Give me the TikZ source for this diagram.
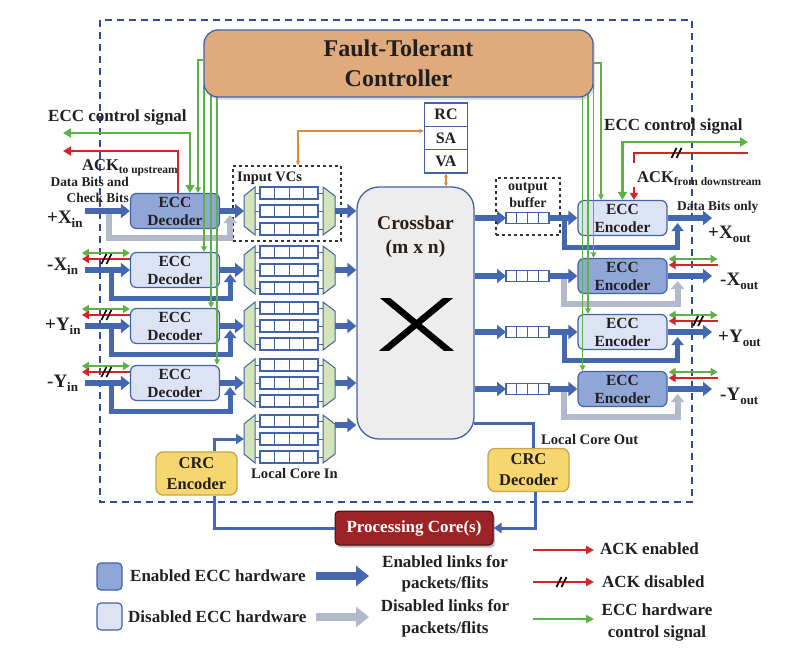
\documentclass[tikz,border=0pt]{standalone}
\usepackage{fontspec}
\setmainfont{Liberation Serif}
\usetikzlibrary{arrows.meta,shadows,calc}
\definecolor{bl}{HTML}{4468B0}
\definecolor{bdr}{HTML}{4262AA}
\definecolor{enf}{HTML}{8FA6D7}
\definecolor{dif}{HTML}{DCE3F4}
\definecolor{gry}{HTML}{B2B9CB}
\definecolor{grn}{HTML}{5DB247}
\definecolor{rd}{HTML}{D42428}
\definecolor{tanc}{HTML}{DFAB7D}
\definecolor{crcf}{HTML}{F6D66E}
\definecolor{crcb}{HTML}{C9A448}
\definecolor{pcr}{HTML}{9C2326}
\definecolor{trap}{HTML}{D4E4B8}
\definecolor{org}{HTML}{E08B3C}
\definecolor{xbf}{HTML}{EDEDEE}
\definecolor{txt}{HTML}{231F20}
\definecolor{xbt}{HTML}{2A2018}
\definecolor{dsh}{HTML}{2F4E98}
\newcommand\fsz[2]{\fontsize{#1}{#2}\selectfont}
\newcommand\subt[3]{\raisebox{-#2pt}{\fsz{#1}{#1}\bfseries #3}}
\pgfdeclarelayer{front}
\pgfsetlayers{main,front}
\newcommand\vcunit[2]{%
  \coordinate (#1-in) at (244,#2);
  \coordinate (#1-out) at (335,#2);
  \foreach \d in {-18,0,18}{
    \draw[draw=bdr, line width=1pt] (255,{#2+(\d)}) -- (260,{#2+(\d)}) (318,{#2+(\d)}) -- (323,{#2+(\d)});
    \draw[cellrow] (260,{#2+(\d)-6}) rectangle (318,{#2+(\d)+6});
    \foreach \c in {274.5,289,303.5}
      \draw[draw=bdr, line width=1pt] (\c,{#2+(\d)-6}) -- (\c,{#2+(\d)+6});
  }
  \draw[draw=bdr, line width=1pt, fill=trap] (244,{#2-15}) -- (255,{#2-24}) -- (255,{#2+24}) -- (244,{#2+15}) -- cycle;
  \draw[draw=bdr, line width=1pt, fill=trap] (323,{#2-24}) -- (335,{#2-15}) -- (335,{#2+15}) -- (323,{#2+24}) -- cycle;
}
\newcommand\obuf[2]{%
  \coordinate (#1-in) at (506,#2);
  \coordinate (#1-out) at (549,#2);
  \draw[cellrow] (506,{#2-5.5}) rectangle (549,{#2+5.5});
  \foreach \c in {516.75,527.5,538.25}
    \draw[draw=bdr, line width=1pt] (\c,{#2-5.5}) -- (\c,{#2+5.5});
}
\newcommand\slashm[1]{%
  \draw[line width=1.6pt, black] ($(#1)+(-5.5,5)$) -- ++(5,-10) ($(#1)+(-0.5,5)$) -- ++(5,-10);
}
\begin{document}
\begin{tikzpicture}[x=1pt,y=-1pt,
  every node/.style={text=txt},
  eccbox/.style={draw=bdr, line width=1.2pt, rounded corners=6pt, minimum width=89pt, minimum height=35pt, align=center, inner sep=0pt, font=\fsz{15.5}{18}\bfseries},
  en/.style={eccbox, fill=enf},
  dis/.style={eccbox, fill=dif},
  blk/.style={draw=bl, line width=6pt, -{Triangle[width=14pt,length=9pt]}},
  byp/.style={draw=bl, line width=5pt, -{Triangle[width=12pt,length=8pt]}},
  gbyp/.style={draw=gry, line width=6pt, -{Triangle[width=13pt,length=8pt]}},
  gctl/.style={draw=grn, line width=1.5pt, -{Triangle[width=5.5pt,length=5.5pt]}},
  gdbl/.style={draw=grn, line width=2.5pt, {Triangle[width=8pt,length=7pt]}-{Triangle[width=8pt,length=7pt]}},
  rarr/.style={draw=rd, line width=2.5pt, -{Triangle[width=8pt,length=7pt]}},
  lcl/.style={draw=bl, line width=3pt},
  lbl/.style={inner sep=0pt, font=\fsz{17}{20}\bfseries},
  port/.style={inner sep=0pt, anchor=base west, font=\fsz{19}{19}\bfseries},
  cellrow/.style={draw=bdr, line width=1.1pt, fill=white},
  crcbox/.style={fill=crcf, draw=crcb, line width=1.3pt, rounded corners=7pt, minimum width=81pt, minimum height=43pt, align=center, inner sep=0pt, font=\fsz{16.5}{21}\bfseries},
  stg/.style={draw=bdr, line width=1.2pt, fill=white, minimum width=43pt, minimum height=23.3pt, inner sep=0pt, font=\fsz{16}{16}\bfseries},
  grpbox/.style={draw=black!80, dashed, line width=1.2pt, inner sep=0pt},
]
\fill[white] (0,0) rectangle (804,648);
\useasboundingbox (0,0) rectangle (804,648);
\draw[dsh, line width=1.3pt, dash pattern=on 7pt off 5pt] (100,20) rectangle (692,502);

% group boxes
\node[grpbox, minimum width=108pt, minimum height=75pt] (ivcbox) at (287,203.5) {};
\node[grpbox, minimum width=64pt, minimum height=57pt] (obbox) at (528,206.5) {};

% ports
\coordinate (in1) at (85,211);
\coordinate (in2) at (85,270);
\coordinate (in3) at (85,326);
\coordinate (in4) at (85,383);
\coordinate (out1) at (712,218);
\coordinate (out2) at (712,276);
\coordinate (out3) at (712,332);
\coordinate (out4) at (712,389);

% ECC decoders / encoders
\node[en] (dec1) at (175,211) {ECC\\Decoder};
\node[dis] (dec2) at (175,270) {ECC\\Decoder};
\node[dis] (dec3) at (175,326) {ECC\\Decoder};
\node[dis] (dec4) at (175,383) {ECC\\Decoder};
\node[dis] (enc1) at (622.5,218) {ECC\\Encoder};
\node[en] (enc2) at (622.5,276) {ECC\\Encoder};
\node[dis] (enc3) at (622.5,332) {ECC\\Encoder};
\node[en] (enc4) at (622.5,389) {ECC\\Encoder};

% buffers
\vcunit{vc1}{211}
\vcunit{vc2}{270}
\vcunit{vc3}{326}
\vcunit{vc4}{383}
\vcunit{vc5}{439}
\obuf{ob1}{218}
\obuf{ob2}{276}
\obuf{ob3}{332}
\obuf{ob4}{389}

% bypass links
\draw[gbyp] ($(in1)+(24,0)$) -- ++(0,27) -| ($(dec1.east)+(10,4)$);
\foreach \i in {2,3,4}
  \draw[byp] ($(in\i)+(26,0)$) -- ++(0,28) -| ($(dec\i.east)+(10,4)$);
\draw[byp] ($(ob1-out)+(15,0)$) -- ++(0,29) -| ($(enc1.east)+(10,5)$);
\draw[gbyp] ($(ob2-out)+(15,0)$) -- ++(0,28) -| ($(enc2.east)+(10,5)$);
\draw[byp] ($(ob3-out)+(15,0)$) -- ++(0,28) -| ($(enc3.east)+(10,5)$);
\draw[gbyp] ($(ob4-out)+(15,0)$) -- ++(0,28) -| ($(enc4.east)+(10,5)$);

% crossbar
\node[draw=bdr, line width=1.3pt, fill=xbf, rounded corners=22pt, minimum width=117pt, minimum height=252pt, inner sep=0pt] (xbar) at (415.5,313) {};
\node[align=center, inner sep=0pt, text=xbt, font=\fsz{19.5}{24}\bfseries] (xbarlbl) at (415.5,237) {Crossbar\\(m x n)};
\begin{scope}
  \clip (375,298) rectangle (460,350);
  \draw[line width=6.5pt, black] (381.4,295) -- (451.6,353);
  \draw[line width=6.5pt, black] (451.6,295) -- (381.4,353);
\end{scope}

% RC SA VA
\node[stg] (rc) at (446,114.7) {RC};
\node[stg] (sa) at (446,138) {SA};
\node[stg] (va) at (446,161.3) {VA};
\draw[org, line width=1.2pt, {Stealth[length=5pt,width=4.5pt]}-{Stealth[length=5pt,width=4.5pt]}] ([xshift=11pt]ivcbox.north) |- ([yshift=7pt]sa.west);
\draw[org, line width=1.2pt, {Stealth[length=4pt,width=4pt]}-{Stealth[length=4pt,width=4pt]}] (va.south) -- (va.south |- xbar.north);

% main data arrows
\foreach \i in {1,2,3,4}{
  \draw[blk] (in\i) -- (dec\i.west);
  \draw[blk] (dec\i.east) -- (vc\i-in);
  \draw[blk] (vc\i-out) -- (vc\i-out -| xbar.west);
  \draw[blk] (ob\i-in -| xbar.east) -- (ob\i-in);
  \draw[blk] (ob\i-out) -- (enc\i.west);
  \draw[blk] (enc\i.east) -- (out\i);
}
\coordinate (vc5-o) at (335,425);
\draw[blk] (vc5-o) -- (vc5-o -| xbar.west);

% ACK / control at ports
\foreach \i in {2,3,4}{
  \draw[gdbl] ($(dec\i.west)+(-48,-17)$) -- ($(dec\i.west)+(0,-17)$);
  \draw[rarr] ($(dec\i.west)+(0,-11)$) -- ($(dec\i.west)+(-48,-11)$);
  \coordinate (sl\i) at ($(dec\i.west)+(-23,-11)$);
  \slashm{sl\i}
  \draw[gdbl] ($(enc\i.east)+(1,-17)$) -- ($(enc\i.east)+(50,-17)$);
  \draw[rarr] ($(enc\i.east)+(50,-11)$) -- ($(enc\i.east)+(1,-11)$);
}
\coordinate (sle3) at ($(enc3.east)+(31,-11)$);
\slashm{sle3}

% controller (front layer)
\begin{pgfonlayer}{front}
\node[fill=tanc, draw=bdr, line width=1.3pt, rounded corners=14pt, minimum width=389pt, minimum height=67pt, align=center, inner sep=0pt, font=\fsz{24}{30}\bfseries, drop shadow={shadow xshift=2pt, shadow yshift=-3pt, opacity=0.25}] (ctrl) at (398.5,63.5) {Fault-Tolerant\\Controller};
\end{pgfonlayer}

% controller green lines
\draw[gctl] ([yshift=3.5pt]ctrl.west) -| ([xshift=23pt]dec1.north);
\coordinate (gl2) at (204,85);
\coordinate (gl3) at (211,85);
\coordinate (gl4) at (217,85);
\draw[gctl] (gl2) -- (gl2 |- dec2.north);
\draw[gctl] (gl3) -- (gl3 |- dec3.north);
\draw[gctl] (gl4) -- (gl4 |- dec4.north);
\draw[gctl] ([yshift=0.5pt]ctrl.east) -| ([xshift=-21.5pt]enc1.north);
\coordinate (gr2) at (593.5,85);
\coordinate (gr3) at (588,85);
\coordinate (gr4) at (582.5,85);
\draw[gctl] (gr2) -- (gr2 |- enc2.north);
\draw[gctl] (gr3) -- (gr3 |- enc3.north);
\draw[gctl] (gr4) -- (gr4 |- enc4.north);

% ECC control / ACK for +X
\coordinate (eccL) at (63,133);
\coordinate (ackL) at (63,151);
\draw[draw=grn, line width=2.5pt, {Triangle[width=9pt,length=8pt]}-{Triangle[width=9pt,length=8pt]}] ([xshift=15pt]dec1.north) |- (eccL);
\draw[draw=rd, line width=2.6pt, -{Triangle[width=9pt,length=8pt]}] ([xshift=3pt]dec1.north) |- (ackL);
\coordinate (eccR) at (748,142);
\draw[draw=grn, line width=2.5pt, {Triangle[width=9pt,length=8pt]}-{Triangle[width=9pt,length=8pt]}] (enc1.north) |- (eccR);
\coordinate (ackR) at (748,153);
\coordinate (ackRe) at (634,163);
\draw[draw=rd, line width=2.6pt] (ackR) -| (ackRe);
\coordinate (ackRa) at (634,187);
\draw[rarr] (ackRa) -- (ackRa |- enc1.north);
\coordinate (slR) at (677,153);
\slashm{slR}

% local core
\node[crcbox] (crcE) at (196.5,473.5) {CRC\\Encoder};
\node[crcbox] (crcD) at (528.5,470) {CRC\\Decoder};
\node[fill=pcr, draw=black!60!pcr, line width=1pt, rounded corners=4pt, minimum width=158pt, minimum height=34pt, inner sep=0pt, text=white, font=\fsz{17}{17}\bfseries, drop shadow={shadow xshift=2pt, shadow yshift=-2.5pt, opacity=0.5}] (pc) at (414,528) {Processing Core(s)};
\draw[lcl, -{Triangle[width=10pt,length=8pt]}] ([xshift=17.5pt]crcE.north) |- (vc5-in);
\draw[lcl] (pc.west) -| ([xshift=17.5pt]crcE.south);
\draw[lcl] ([xshift=-1pt,yshift=-110pt]xbar.east) -| ([xshift=5pt]crcD.north);
\draw[lcl, -{Triangle[width=10pt,length=8pt]}] ([xshift=6.5pt]crcD.south) |- (pc.east);

% labels
\node[lbl, anchor=base west] (tEccL) at (48,121) {ECC control signal};
\node[anchor=base west, inner sep=0pt, font=\fsz{16.5}{18}\bfseries] (tAckU) at (82,170) {ACK\subt{11.5}{3}{to upstream}};
\node[anchor=east, inner sep=0pt, align=right, font=\fsz{13.4}{16.5}\bfseries] (tDBC) at (129,190) {Data Bits and\\Check Bits};
\node[port] (tXpi) at (47,223) {+X\subt{13}{4.5}{in}};
\node[port] (tXmi) at (47,270) {-X\subt{13}{4.5}{in}};
\node[port] (tYpi) at (45,330) {+Y\subt{13}{4.5}{in}};
\node[port] (tYmi) at (47,387) {-Y\subt{13}{4.5}{in}};
\node[port] (tXpo) at (708,238) {+X\subt{13}{4.5}{out}};
\node[port] (tXmo) at (720,285) {-X\subt{13}{4.5}{out}};
\node[port] (tYpo) at (718,342) {+Y\subt{13}{4.5}{out}};
\node[port] (tYmo) at (720,400) {-Y\subt{13}{4.5}{out}};
\node[lbl, anchor=base west] (tEccR) at (604,130) {ECC control signal};
\node[anchor=base west, inner sep=0pt, font=\fsz{16.5}{18}\bfseries] (tAckD) at (637,182) {ACK\subt{11.5}{3}{from downstream}};
\node[anchor=base west, inner sep=0pt, font=\fsz{13.4}{14}\bfseries] (tDBO) at (677,210) {Data Bits only};
\node[anchor=base west, inner sep=0pt, font=\fsz{14.5}{15}\bfseries] (tIVC) at (237,181) {Input VCs};
\node[align=center, inner sep=0pt, font=\fsz{14}{17.5}\bfseries] (tOB) at (528,195) {output\\buffer};
\node[anchor=base, inner sep=0pt, font=\fsz{14.6}{15}\bfseries] (tLCI) at (294.5,478) {Local Core In};
\node[anchor=base west, inner sep=0pt, font=\fsz{14.6}{15}\bfseries] (tLCO) at (541,444) {Local Core Out};

% legend
\node[eccbox, fill=enf, minimum width=25pt, minimum height=27pt, rounded corners=4pt] (lgE) at (109.5,576.5) {};
\node[eccbox, fill=dif, minimum width=25pt, minimum height=27pt, rounded corners=4pt] (lgD) at (109.5,616.5) {};
\node[lbl, anchor=west] (lgEt) at (130,576) {Enabled ECC hardware};
\node[lbl, anchor=west] (lgDt) at (128,617) {Disabled ECC hardware};
\coordinate (la1) at (316,576);
\coordinate (la2) at (369,576);
\coordinate (lb1) at (316,617);
\coordinate (lb2) at (369,617);
\draw[draw=bl, line width=8pt, -{Triangle[width=20pt,length=13pt]}] (la1) -- (la2);
\draw[draw=gry, line width=8pt, -{Triangle[width=20pt,length=13pt]}] (lb1) -- (lb2);
\node[lbl, align=center, font=\fsz{17}{21}\bfseries] (lgEl) at (445,573.5) {Enabled links for\\packets/flits};
\node[lbl, align=center, font=\fsz{17}{22}\bfseries] (lgDl) at (445,618) {Disabled links for\\packets/flits};
\coordinate (lr1a) at (533,550);
\coordinate (lr1b) at (594,550);
\coordinate (lr2a) at (533,582);
\coordinate (lr2b) at (594,582);
\coordinate (lg1a) at (533,619);
\coordinate (lg1b) at (594,619);
\draw[draw=rd, line width=2.6pt, -{Triangle[width=8pt,length=8pt]}] (lr1a) -- (lr1b);
\draw[draw=rd, line width=2.6pt, -{Triangle[width=8pt,length=8pt]}] (lr2a) -- (lr2b);
\coordinate (lsl) at (562,582);
\slashm{lsl}
\draw[draw=grn, line width=2.6pt, -{Triangle[width=8pt,length=8pt]}] (lg1a) -- (lg1b);
\node[lbl, anchor=west] (lgAe) at (600,549) {ACK enabled};
\node[lbl, anchor=west] (lgAd) at (602,582) {ACK disabled};
\node[lbl, align=center, font=\fsz{17}{22}\bfseries] (lgEc) at (657,622) {ECC hardware\\control signal};
\end{tikzpicture}
\end{document}
